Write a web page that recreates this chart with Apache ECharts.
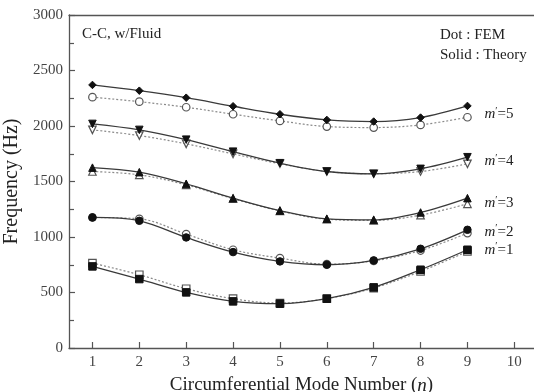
<!DOCTYPE html>
<html>
<head>
<meta charset="utf-8">
<script src="https://cdn.jsdelivr.net/npm/echarts@6/dist/echarts.min.js"></script>
<style>
  html, body { margin: 0; padding: 0; background: #fff; }
  #chart { width: 534px; height: 392px; }
</style>
</head>
<body>
<div id="chart"></div>
<script>
// Circumferential mode numbers
const modeN = [1, 2, 3, 4, 5, 6, 7, 8, 9];
// Tick positions along the n axis
const nTicks = [1, 2, 3, 4, 5, 6, 7, 8, 9, 10];

// Natural frequencies (Hz), theory (solid) and FEM (dotted), per axial mode m'
const theoryM1 = [735, 621, 501, 420, 399, 444, 546, 705, 885];
const femM1    = [765, 660, 534, 444, 405, 445, 540, 690, 870];
const theoryM2 = [1176, 1146, 996, 864, 780, 750, 789, 894, 1065];
const femM2    = [1176, 1164, 1026, 885, 810, 755, 785, 878, 1035];
const theoryM3 = [1625, 1584, 1479, 1350, 1238, 1164, 1155, 1221, 1350];
const femM3    = [1590, 1560, 1470, 1345, 1235, 1160, 1150, 1197, 1299];
const theoryM4 = [2019, 1965, 1877, 1769, 1665, 1590, 1569, 1614, 1719];
const femM4    = [1965, 1914, 1839, 1749, 1660, 1590, 1570, 1590, 1659];
const theoryM5 = [2370, 2318, 2255, 2178, 2106, 2055, 2040, 2076, 2181];
const femM5    = [2260, 2219, 2169, 2106, 2046, 1995, 1986, 2010, 2079];

const modeLabels = ['1', '2', '3', '4', '5'];

const serif = '"Liberation Serif", "DejaVu Serif", serif';
const axisGrey = '#555';

function pairs(vals) {
  return modeN.map((n, i) => [n, vals[i]]);
}

function theorySeries(vals, symbol, label, dy, rotate) {
  return {
    type: 'line',
    data: pairs(vals),
    smooth: 0.35,
    symbol: symbol,
    symbolSize: 7.5,
    symbolRotate: rotate || 0,
    lineStyle: { color: '#3a3a3a', width: 1.3, type: 'solid' },
    itemStyle: { color: '#111', borderColor: '#111', borderWidth: 1 },
    endLabel: {
      show: true,
      distance: 17,
      offset: [0, dy],
      formatter: '{i|m}{p|\u2032}{r|=' + label + '}',
      rich: {
        i: { fontFamily: serif, fontStyle: 'italic', fontSize: 15, color: '#222' },
        p: { fontFamily: serif, fontSize: 10, color: '#222', verticalAlign: 'top', padding: [0, 0, 6, 0] },
        r: { fontFamily: serif, fontSize: 15, color: '#222' }
      }
    },
    z: 3
  };
}

function femSeries(vals, symbol, rotate) {
  return {
    type: 'line',
    data: pairs(vals),
    smooth: 0.35,
    symbol: symbol,
    symbolSize: 7.5,
    symbolRotate: rotate || 0,
    showAllSymbol: true,
    lineStyle: { color: '#8a8a8a', width: 1.2, type: [2, 2] },
    itemStyle: { color: '#fff', borderColor: '#555', borderWidth: 1.2 },
    z: 2
  };
}

const chart = echarts.init(document.getElementById('chart'), null, { renderer: 'canvas' });

chart.setOption({
  animation: false,
  backgroundColor: '#fff',
  grid: { left: 69, right: 0, top: 15, bottom: 44, outerBoundsMode: 'none', containLabel: false },
  xAxis: [
    {
      type: 'value',
      position: 'bottom',
      min: 0.5, max: 10.42,
      name: 'Circumferential Mode Number ({n|n})',
      nameLocation: 'middle',
      nameGap: 28,
      nameTextStyle: {
        fontFamily: serif, fontSize: 19, color: '#222',
        rich: { n: { fontFamily: serif, fontSize: 19, fontStyle: 'italic', color: '#222' } }
      },
      axisLine: { show: true, lineStyle: { color: axisGrey, width: 1.3 } },
      axisTick: { show: true, inside: true, length: 6, customValues: nTicks,
                  lineStyle: { color: axisGrey, width: 1.2 } },
      axisLabel: { fontFamily: serif, fontSize: 15, color: '#444', margin: 7, customValues: nTicks },
      splitLine: { show: false }
    },
    {
      // plain frame line along the top edge
      type: 'value',
      position: 'top',
      min: 0.5, max: 10.42,
      axisLine: { show: true, lineStyle: { color: axisGrey, width: 1.3 } },
      axisTick: { show: false },
      axisLabel: { show: false },
      splitLine: { show: false }
    }
  ],
  yAxis: {
    type: 'value',
    min: 0, max: 3000,
    interval: 500,
    name: 'Frequency (Hz)',
    nameLocation: 'middle',
    nameGap: 37,
    nameTextStyle: { fontFamily: serif, fontSize: 20, color: '#222' },
    axisLine: { show: true, lineStyle: { color: axisGrey, width: 1.3 } },
    axisTick: { show: true, inside: true, length: 6, lineStyle: { color: axisGrey, width: 1.2 } },
    minorTick: { show: true, splitNumber: 2, length: 5, lineStyle: { color: axisGrey, width: 1.2 } },
    axisLabel: { fontFamily: serif, fontSize: 15, color: '#444', margin: 6, formatter: v => String(v) },
    splitLine: { show: false }
  },
  graphic: [
    { type: 'text', left: 82, top: 27,
      style: { text: 'C-C, w/Fluid', font: '15px ' + serif, fill: '#222' } },
    { type: 'text', left: 440, top: 28,
      style: { text: 'Dot : FEM', font: '15px ' + serif, fill: '#222' } },
    { type: 'text', left: 440, top: 48,
      style: { text: 'Solid : Theory', font: '15px ' + serif, fill: '#222' } }
  ],
  series: [
    femSeries(femM5, 'circle'),
    theorySeries(theoryM5, 'diamond', modeLabels[4], 8),
    femSeries(femM4, 'triangle', 180),
    theorySeries(theoryM4, 'triangle', modeLabels[3], 4, 180),
    femSeries(femM3, 'triangle'),
    theorySeries(theoryM3, 'triangle', modeLabels[2], 5),
    femSeries(femM2, 'circle'),
    theorySeries(theoryM2, 'circle', modeLabels[1], 2),
    femSeries(femM1, 'rect'),
    theorySeries(theoryM1, 'rect', modeLabels[0], 0)
  ]
});
</script>
</body>
</html>
